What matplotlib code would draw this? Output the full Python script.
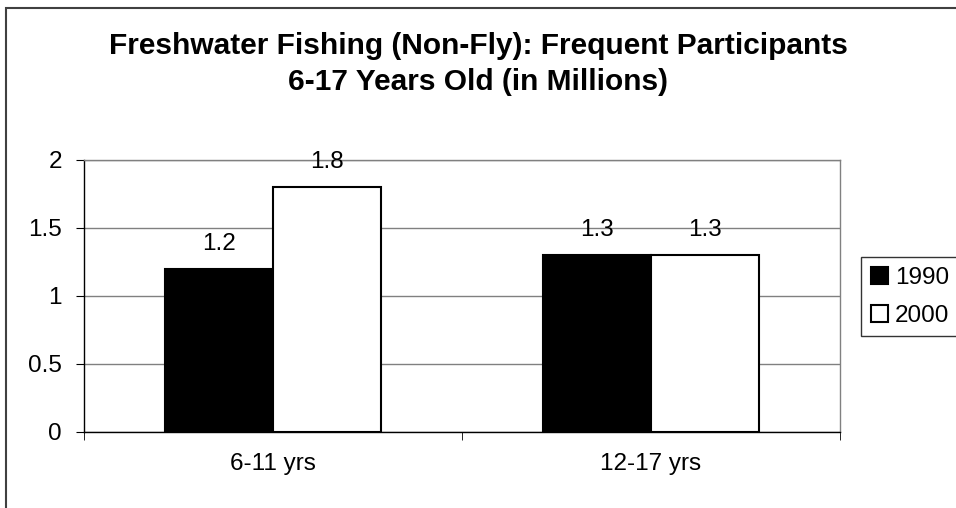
import matplotlib
matplotlib.use('Agg')
import matplotlib.pyplot as plt
import numpy as np
from matplotlib.patches import Rectangle

plt.rcParams['font.family'] = ['Liberation Sans', 'DejaVu Sans']

# data
categories = ['6-11 yrs', '12-17 yrs']
years = ['1990', '2000']
values_1990 = [1.2, 1.3]
values_2000 = [1.8, 1.3]

fig = plt.figure(figsize=(9.56, 5.08), dpi=100)
fig.patch.set_facecolor('white')

# outer chart frame (runs off right and bottom edges)
fig.patches.append(Rectangle((6 / 956, -0.05), 1.2, (508 - 8) / 508 + 0.05,
                             transform=fig.transFigure, fill=False,
                             edgecolor='#404040', linewidth=1.5))

ax = fig.add_axes([84 / 956, (508 - 432) / 508, (840 - 84) / 956, (432 - 160) / 508])

x = np.arange(len(categories))
w = 1 / 3.5
b1 = ax.bar(x - w / 2, values_1990, w, color='black', edgecolor='black',
            linewidth=1.5, label=years[0], zorder=3)
b2 = ax.bar(x + w / 2, values_2000, w, color='white', edgecolor='black',
            linewidth=1.5, label=years[1], zorder=3)

for bars, vals in [(b1, values_1990), (b2, values_2000)]:
    for r, v in zip(bars, vals):
        ax.annotate(f'{v}', (r.get_x() + r.get_width() / 2, v),
                    xytext=(0, 10), textcoords='offset points',
                    ha='center', va='bottom', fontsize=17.5)

ax.set_xlim(-0.5, 1.5)
ax.set_ylim(0, 2)
ax.set_yticks([0, 0.5, 1, 1.5, 2])
ax.set_yticklabels(['0', '0.5', '1', '1.5', '2'])
ax.set_xticks(x)
ax.set_xticklabels(categories)
ax.set_xticks([-0.5, 0.5, 1.5], minor=True)
ax.tick_params(axis='x', which='major', length=0, pad=15, labelsize=17.5)
ax.tick_params(axis='x', which='minor', length=6, direction='out', color='black')
ax.tick_params(axis='y', length=6, direction='out', pad=10, labelsize=17.5)

ax.grid(axis='y', color='#808080', linewidth=1.0, zorder=0)
ax.spines['left'].set_color('black')
ax.spines['bottom'].set_color('black')
ax.spines['top'].set_color('#808080')
ax.spines['right'].set_color('#808080')
for s in ax.spines.values():
    s.set_linewidth(1.0)

fig.text(478 / 956, 1 - 46 / 508, 'Freshwater Fishing (Non-Fly): Frequent Participants',
         ha='center', va='center', fontsize=21.5, fontweight='bold')
fig.text(478 / 956, 1 - 82 / 508, '6-17 Years Old (in Millions)',
         ha='center', va='center', fontsize=21.5, fontweight='bold')

leg = fig.legend(handles=[b1, b2], labels=years, loc='upper left',
                 bbox_to_anchor=(861 / 956, 1 - 257 / 508),
                 frameon=True, fancybox=False, fontsize=17.5,
                 handlelength=0.7, handleheight=0.7, handletextpad=0.3,
                 borderpad=0.4, labelspacing=0.65, borderaxespad=0)
leg.get_frame().set_edgecolor('black')
leg.get_frame().set_linewidth(1.0)

fig.savefig('out.png', dpi=100, facecolor='white')
